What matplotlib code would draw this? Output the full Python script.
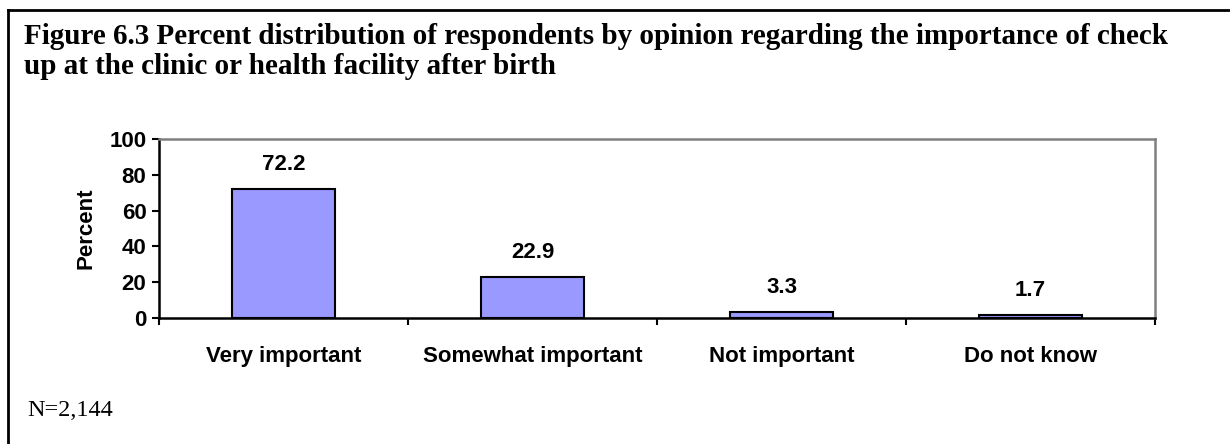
import matplotlib.pyplot as plt
import numpy as np

categories = ['Very important', 'Somewhat important', 'Not important', 'Do not know']
percent = [72.2, 22.9, 3.3, 1.7]
yticks = [0, 20, 40, 60, 80, 100]

title_lines = ['Figure 6.3 Percent distribution of respondents by opinion regarding the importance of check',
               'up at the clinic or health facility after birth']
note = 'N=2,144'

W, H = 1230, 444
fig = plt.figure(figsize=(W / 100, H / 100), dpi=100)
ax = fig.add_axes([159 / W, 126 / H, 996 / W, 179 / H])

sans = 'Liberation Sans'
fs = 16

x = np.arange(len(categories))
ax.bar(x, percent, width=0.41, color='#9999FF', edgecolor='black', linewidth=1.5, zorder=3)

for xi, v in zip(x, percent):
    ax.annotate(f'{v:.1f}', (xi, v), xytext=(0, 10), textcoords='offset points',
                ha='center', va='bottom', fontsize=fs, fontweight='bold', family=sans)

ax.set_xlim(-0.5, len(categories) - 0.5)
ax.set_ylim(0, 100)
ax.set_yticks(yticks)
ax.set_yticklabels([str(t) for t in yticks], fontsize=fs, fontweight='bold', family=sans)
ax.set_xticks(x)
ax.set_xticklabels(categories, fontsize=fs, fontweight='bold', family=sans)
ax.tick_params(axis='x', length=0, pad=20)
ax.tick_params(axis='y', length=5, width=1.5, pad=4)
# category boundary ticks on x axis
ax.set_xticks(np.arange(len(categories) + 1) - 0.5, minor=True)
ax.tick_params(axis='x', which='minor', length=5, width=1.5, direction='out')
ax.set_ylabel('Percent', fontsize=fs, fontweight='bold', family=sans, labelpad=9)

for side in ['left', 'bottom']:
    ax.spines[side].set_color('black')
    ax.spines[side].set_linewidth(1.8)
for side in ['top', 'right']:
    ax.spines[side].set_color('#808080')
    ax.spines[side].set_linewidth(1.8)

fig.text(24 / W, 1 - 44 / H, title_lines[0], ha='left', va='baseline', fontsize=21,
         fontweight='bold', family='Liberation Serif')
fig.text(24 / W, 1 - 74 / H, title_lines[1], ha='left', va='baseline', fontsize=21,
         fontweight='bold', family='Liberation Serif')
fig.text(27 / W, 1 - 410 / H, note, ha='left', va='center', fontsize=17.5,
         family='Liberation Serif')

# outer frame: top and left lines only
fig.add_artist(plt.Line2D([8 / W, 1], [1 - 10 / H, 1 - 10 / H], color='black', linewidth=2))
fig.add_artist(plt.Line2D([8 / W, 8 / W], [0, 1 - 10 / H], color='black', linewidth=2))

fig.savefig('out.png', dpi=100)
